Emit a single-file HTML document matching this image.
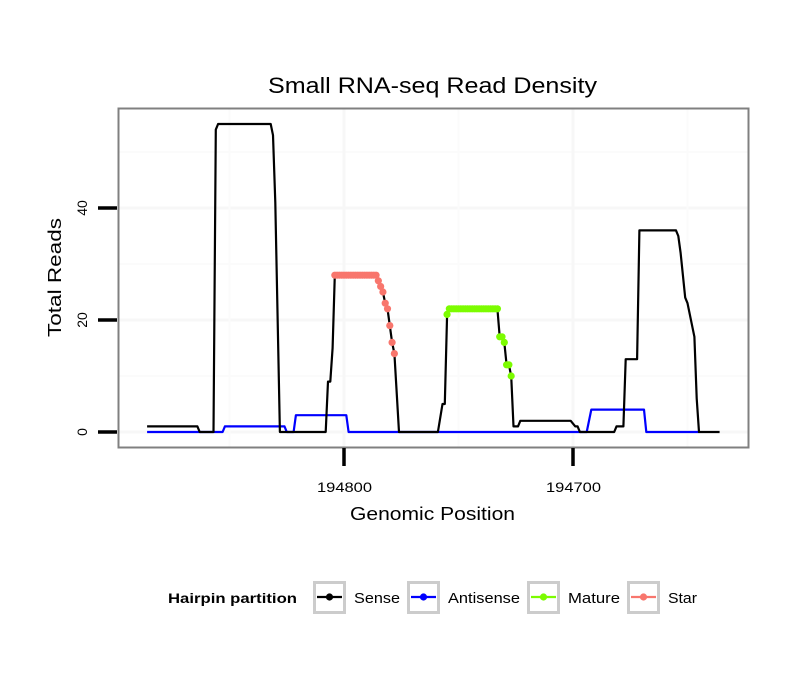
<!DOCTYPE html>
<html><head><meta charset="utf-8"><style>
body{margin:0;background:#fff;}
svg{display:block;font-family:"Liberation Sans",sans-serif;}
</style></head><body>
<svg id="chart" width="810" height="690" viewBox="0 0 810 690">
<rect x="0" y="0" width="810" height="690" fill="#fff"/>
<text x="268" y="93" font-size="22" textLength="329" lengthAdjust="spacingAndGlyphs">Small RNA-seq Read Density</text>
<g id="grid"></g>
<g id="series"></g>
<rect x="118.5" y="108.5" width="630" height="339" fill="none" stroke="#808080" stroke-width="2"/>
<g id="axes"></g>
<text x="350" y="520" font-size="18" textLength="165" lengthAdjust="spacingAndGlyphs">Genomic Position</text>
<text transform="translate(61,337) rotate(-90)" font-size="18" textLength="119" lengthAdjust="spacingAndGlyphs">Total Reads</text>
<g id="legend">
<text x="168" y="603" font-size="14" font-weight="bold" textLength="129" lengthAdjust="spacingAndGlyphs">Hairpin partition</text>
</g>
</svg>
<script>
const sensePos=[194886,194864,194863,194857,194856,194855,194832,194831,194830,194828,194808,194807,194806,194805,194804,194786,194785,194784,194783,194782,194781,194780,194779,194778,194776,194759,194757,194756,194755,194754,194733,194732,194731,194730,194729,194728,194727,194726,194724,194723,194701,194699,194698,194697,194682,194681,194678,194677,194672,194671,194655,194654,194653,194651,194650,194647,194646,194645,194636];
const senseVal=[1,1,0,0,54,55,55,53,41,0,0,9,9,15,28,28,27,26,25,23,22,19,16,14,0,0,5,5,21,22,22,17,17,16,12,12,10,1,1,2,2,1,1,0,0,1,1,13,13,36,36,35,32,24,23,17,6,0,0];
const antiPos=[194886,194853,194852,194826,194825,194822,194821,194799,194798,194694,194692,194669,194668,194645];
const antiVal=[0,0,1,1,0,0,3,3,0,0,4,4,0,0];
const maturePos=[194755,194754,194753,194752,194751,194750,194749,194748,194747,194746,194745,194744,194743,194742,194741,194740,194739,194738,194737,194736,194735,194734,194733,194732,194731,194730,194729,194728,194727];
const matureVal=[21,22,22,22,22,22,22,22,22,22,22,22,22,22,22,22,22,22,22,22,22,22,22,17,17,16,12,12,10];
const starPos=[194804,194803,194802,194801,194800,194799,194798,194797,194796,194795,194794,194793,194792,194791,194790,194789,194788,194787,194786,194785,194784,194783,194782,194781,194780,194779,194778];
const starVal=[28,28,28,28,28,28,28,28,28,28,28,28,28,28,28,28,28,28,28,27,26,25,23,22,19,16,14];
const xTicks=[194800,194700];
const yTicks=[0,20,40];
const xMinor=[194850,194750,194650];
const yMinor=[10,30,50];

const NS='http://www.w3.org/2000/svg';
function X(p){return 344+(194800-p)*2.29;}
function Y(v){return 432-v*5.6;}
function mk(tag,attrs,parent){const e=document.createElementNS(NS,tag);for(const k in attrs)e.setAttribute(k,attrs[k]);parent.appendChild(e);return e;}
const grid=document.getElementById('grid'),series=document.getElementById('series'),axes=document.getElementById('axes'),legend=document.getElementById('legend');

yMinor.forEach(v=>{const l=mk('line',{x1:119,x2:748,y1:Y(v),y2:Y(v),stroke:'#fbfbfb','stroke-width':2},grid);

});
yTicks.forEach(v=>{const l=mk('line',{x1:119,x2:748,y1:Y(v),y2:Y(v),stroke:'#f7f7f7','stroke-width':3},grid);

});
xMinor.forEach(p=>{const l=mk('line',{x1:X(p),x2:X(p),y1:109,y2:447,stroke:'#fbfbfb','stroke-width':2},grid);

});
xTicks.forEach(p=>{const l=mk('line',{x1:X(p),x2:X(p),y1:109,y2:447,stroke:'#f7f7f7','stroke-width':3},grid);

});

function path(pos,val){return pos.map((p,i)=>(i?'L':'M')+X(p).toFixed(1)+','+Y(val[i]).toFixed(1)).join(' ');}
const pa=mk('path',{d:path(antiPos,antiVal),fill:'none',stroke:'#0000ff','stroke-width':2.2,'stroke-linejoin':'round'},series);


const ps=mk('path',{d:path(sensePos,senseVal),fill:'none',stroke:'#000','stroke-width':2.2,'stroke-linejoin':'round'},series);


starPos.forEach((p,i)=>{const c=mk('circle',{cx:X(p),cy:Y(starVal[i]),r:3.6,fill:'#f8766d'},series);

});
maturePos.forEach((p,i)=>{const c=mk('circle',{cx:X(p),cy:Y(matureVal[i]),r:3.6,fill:'#7cfc00'},series);

});

yTicks.forEach(v=>{const t=mk('line',{x1:98,x2:117,y1:Y(v),y2:Y(v),stroke:'#000','stroke-width':3.5},axes);


const tx=mk('text',{transform:'translate('+87+','+Y(v)+') rotate(-90)','font-size':14,'text-anchor':'middle'},axes);
tx.textContent=v;

});
xTicks.forEach(p=>{const t=mk('line',{x1:X(p),x2:X(p),y1:448,y2:466,stroke:'#000','stroke-width':3.5},axes);


const tx=mk('text',{x:X(p)-27,y:492,'font-size':14,textLength:55,lengthAdjust:'spacingAndGlyphs'},axes);
tx.textContent=p;

});

const legNames=['Sense','Antisense','Mature','Star'];
const legColors=['#000','#0000ff','#7cfc00','#f8766d'];
const legBoxX=[313,407,527,627];
const legTextLen=[46,72,52,29];
legNames.forEach((n,i)=>{const bx=legBoxX[i];
const g=mk('g',{},legend);


mk('rect',{x:bx+1.5,y:582.5,width:30,height:30,fill:'#fff',stroke:'#cccccc','stroke-width':3},g);
mk('line',{x1:bx+4,x2:bx+29,y1:597,y2:597,stroke:legColors[i],'stroke-width':2.2},g);
mk('circle',{cx:bx+16.5,cy:597,r:3.6,fill:legColors[i]},g);
const t=mk('text',{x:bx+41,y:603,'font-size':15,textLength:legTextLen[i],lengthAdjust:'spacingAndGlyphs'},g);t.textContent=n;});
</script>
</body></html>
